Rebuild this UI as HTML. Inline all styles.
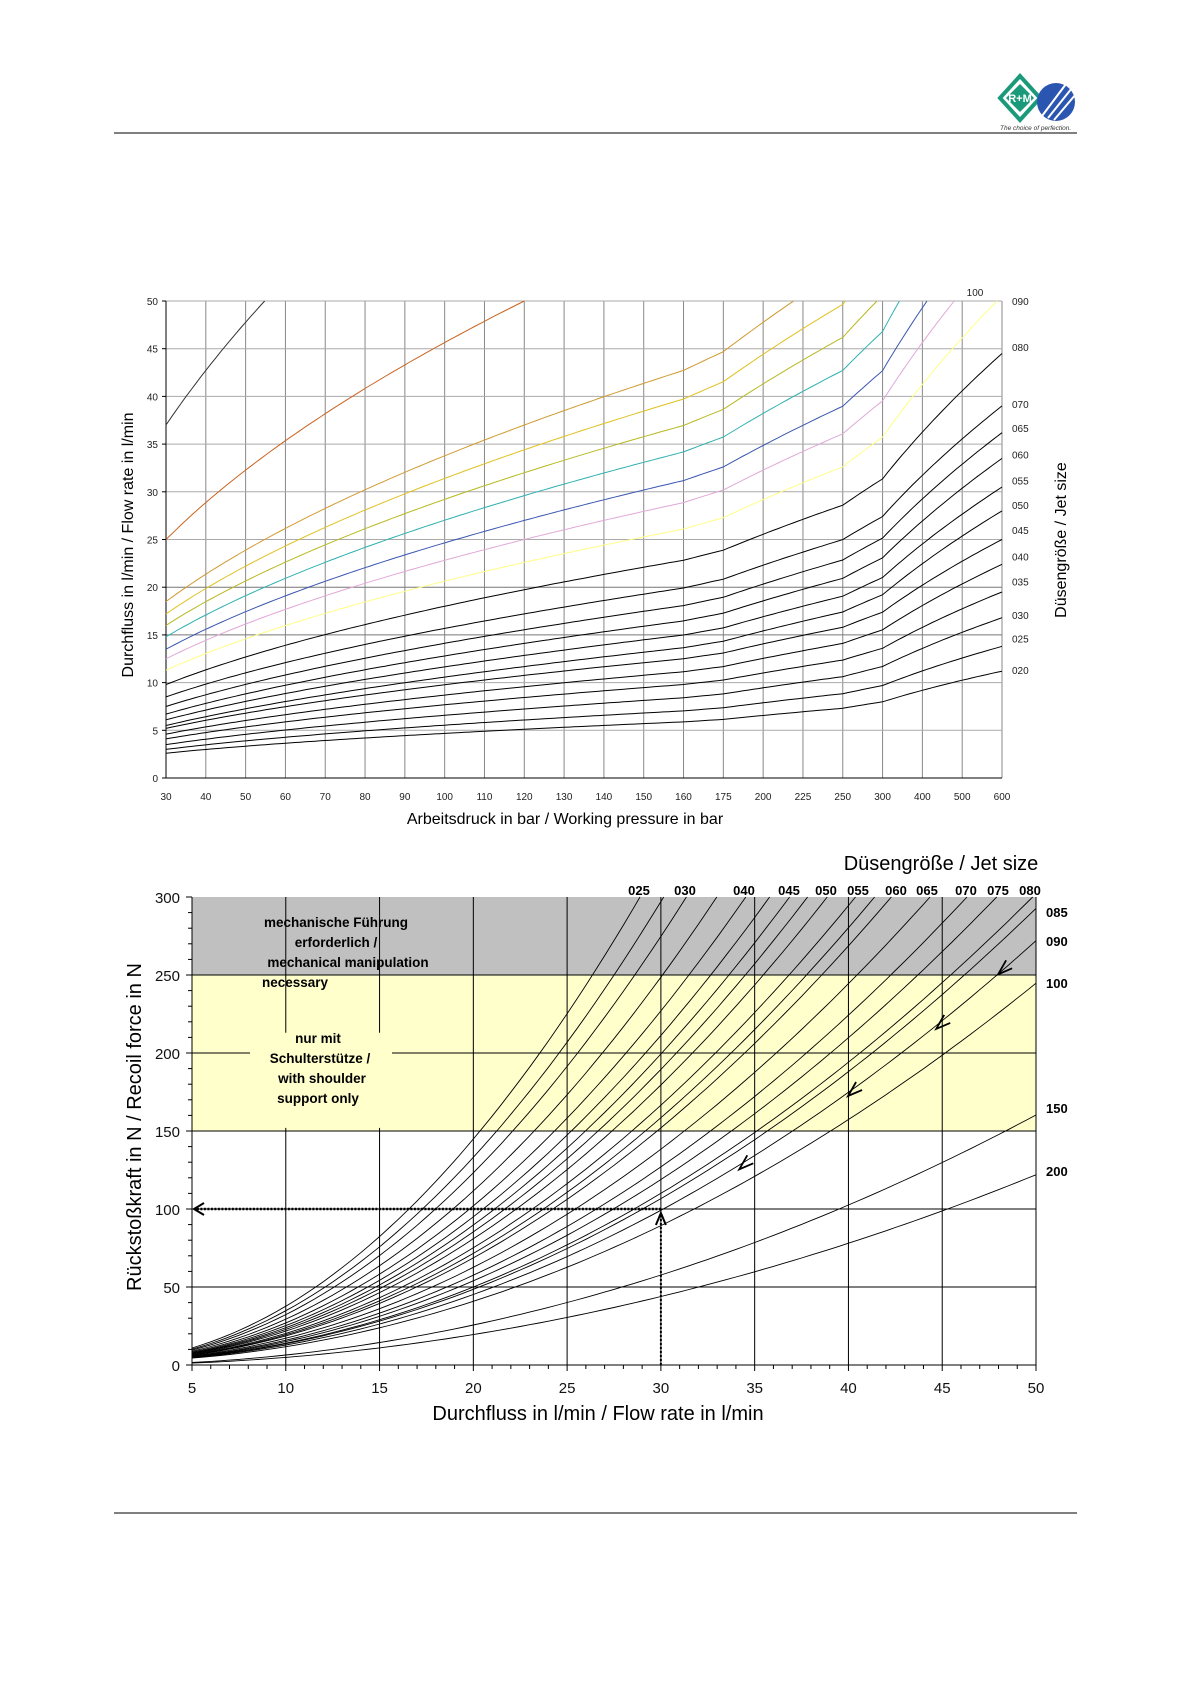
<!DOCTYPE html>
<html><head><meta charset="utf-8">
<style>
html,body{margin:0;padding:0;background:#fff;}
svg{display:block;font-family:"Liberation Sans",sans-serif;}
</style></head>
<body>
<svg id="s" width="1190" height="1684" viewBox="0 0 1190 1684" xmlns="http://www.w3.org/2000/svg">
<rect width="1190" height="1684" fill="#fff"/>
<line x1="114" y1="133" x2="1077" y2="133" stroke="#000" stroke-width="1"/>
<g transform="translate(996,76)">
<polygon points="24,0 44,22 24,44 4,22" fill="#fff" stroke="#1a9a7a" stroke-width="4"/>
<polygon points="24,8 38,22 24,36 10,22" fill="#1a9a7a"/>
<text x="24" y="26" font-size="11" font-weight="bold" fill="#fff" text-anchor="middle">R+M</text>
<circle cx="60" cy="26" r="19" fill="#2a55b0"/>
<line x1="46" y1="40" x2="70" y2="8" stroke="#fff" stroke-width="2"/>
<line x1="52" y1="42" x2="76" y2="12" stroke="#fff" stroke-width="2"/>
<line x1="58" y1="44" x2="80" y2="18" stroke="#fff" stroke-width="2"/>
<text x="4" y="54" font-size="6.5" font-style="italic" fill="#333">The choice of perfection.</text>
</g>
<line x1="114" y1="1513" x2="1077" y2="1513" stroke="#000" stroke-width="1"/>
<g id="top"></g>
<g id="bot"></g>
</svg>
<script>
var NS="http://www.w3.org/2000/svg";
function el(parent,tag,attrs,txt){var e=document.createElementNS(NS,tag);for(var k in attrs)e.setAttribute(k,attrs[k]);if(txt!==undefined)e.textContent=txt;parent.appendChild(e);return e;}
var T=document.getElementById('top');
var L=166,R=1002,TOP=301,BOT=778;
var cats=[30,40,50,60,70,80,90,100,110,120,130,140,150,160,175,200,225,250,300,400,500,600];
var dx=(R-L)/(cats.length-1);
function yq(q){return BOT-q*(BOT-TOP)/50;}
for(var i=0;i<cats.length;i++){var x=L+i*dx;el(T,'line',{x1:x,y1:TOP,x2:x,y2:BOT,stroke:'#888','stroke-width':1});
 el(T,'text',{x:x,y:800,'font-size':10,'text-anchor':'middle',fill:'#222'},cats[i]);}
for(var q=0;q<=50;q+=5){var y=yq(q);el(T,'line',{x1:L,y1:y,x2:R,y2:y,stroke:(q==15||q==20)?'#777':'#aaa','stroke-width':1});
 el(T,'text',{x:158,y:y+4,'font-size':10,'text-anchor':'end',fill:'#222'},q);
 el(T,'line',{x1:L-4,y1:y,x2:L,y2:y,stroke:'#000'});}
el(T,'line',{x1:L,y1:TOP,x2:L,y2:BOT,stroke:'#000'});
el(T,'line',{x1:L,y1:BOT,x2:R,y2:BOT,stroke:'#000'});
function xp(p){for(var i=0;i<cats.length-1;i++){if(p<=cats[i+1]){return L+(i+(p-cats[i])/(cats[i+1]-cats[i]))*dx;}}return R;}
function curve(q30,e,col){var d='';var started=false;
 for(var i=0;i<cats.length-1;i++){for(var k=0;k<8;k++){var p=cats[i]+(cats[i+1]-cats[i])*k/8;var q=q30*Math.pow(p/30,e);
  if(q>50){var pc=30*Math.pow(50/q30,1/e);d+='L'+xp(pc).toFixed(1)+','+TOP;el(T,'path',{d:d,fill:'none',stroke:col,'stroke-width':1});return;}
  d+=(started?'L':'M')+xp(p).toFixed(1)+','+yq(q).toFixed(1);started=true;}}
 var q=q30*Math.pow(20,e);d+='L'+R+','+yq(q).toFixed(1);
 el(T,'path',{d:d,fill:'none',stroke:col,'stroke-width':1});}
var blacks=[[2.6,11.2],[3.0,13.8],[3.5,16.8],[4.1,19.5],[4.6,22.4],[5.2,25.0],[5.5,28.0],[6.1,30.5],[6.7,33.5],[7.5,36.2],[8.5,39.0],[9.8,44.5]];
blacks.forEach(function(b){curve(b[0],Math.log(b[1]/b[0])/Math.log(20),'#000');});
var cols=[[11.3,'#ffff88'],[12.5,'#e0a8d8'],[13.5,'#3a56b0'],[14.8,'#30b0b0'],[16,'#b8b820'],[17.2,'#e0c020'],[18.5,'#d09a30'],[25,'#c86420'],[37,'#333']];
cols.forEach(function(c){curve(c[0],0.5,c[1]);});
[['090',50],['080',45.2],['070',39.2],['065',36.7],['060',33.9],['055',31.2],['050',28.6],['045',26],['040',23.2],['035',20.6],['030',17.1],['025',14.6],['020',11.3]].forEach(function(l){
 el(T,'text',{x:1012,y:yq(l[1])+4,'font-size':10,fill:'#222'},l[0]);});
el(T,'text',{x:975,y:296,'font-size':10,'text-anchor':'middle',fill:'#222'},'100');
el(T,'text',{x:565,y:824,'font-size':16,'text-anchor':'middle',fill:'#000'},'Arbeitsdruck in bar / Working pressure in bar');
el(T,'text',{x:0,y:0,'font-size':16,'text-anchor':'middle',fill:'#000',transform:'translate(133,545) rotate(-90)'},'Durchfluss in l/min / Flow rate in l/min');
el(T,'text',{x:0,y:0,'font-size':16,'text-anchor':'middle',fill:'#000',transform:'translate(1066,540) rotate(-90)'},'Düsengröße / Jet size');
var B=document.getElementById('bot');
var BL=192,BR=1036,BT=897,BB=1365;
function bx(q){return BL+(q-5)*(BR-BL)/45;}
function by(f){return BB-f*(BB-BT)/300;}
el(B,'rect',{x:BL,y:by(300),width:BR-BL,height:by(250)-by(300),fill:'#c0c0c0'});
el(B,'rect',{x:BL,y:by(250),width:BR-BL,height:by(150)-by(250),fill:'#ffffcc'});
for(var q=10;q<=50;q+=5){el(B,'line',{x1:bx(q),y1:BT,x2:bx(q),y2:BB,stroke:'#000','stroke-width':1});}
[50,100,150,200,250].forEach(function(f){el(B,'line',{x1:BL,y1:by(f),x2:BR,y2:by(f),stroke:'#000','stroke-width':1});});
el(B,'rect',{x:250,y:by(213),width:142,height:by(152)-by(213),fill:'#ffffcc'});
var tb=[['mechanische Führung',336,927],['erforderlich /',336,947],['mechanical manipulation',348,967],['necessary',295,987]];
tb.forEach(function(t){el(B,'text',{x:t[1],y:t[2],'font-size':13.5,'font-weight':'bold','text-anchor':'middle',fill:'#000'},t[0]);});
[['nur mit',318,1043],['Schulterstütze /',320,1063],['with shoulder',322,1083],['support only',318,1103]].forEach(function(t){el(B,'text',{x:t[1],y:t[2],'font-size':13.5,'font-weight':'bold','text-anchor':'middle',fill:'#000'},t[0]);});
var ds=[2.8,3.05,3.3,3.65,4.0,4.3,4.56,4.8,5.07,5.47,5.75,6.0,6.6,7.2,7.7,8.33,8.6,9.26,10.3,15.6,20.5];
ds.forEach(function(d){var s='';var first=true;
 for(var q=5;q<=50.01;q+=0.5){var f=q*q/d+ (d<11?2:0);if(f>300){var qq=Math.sqrt((300-(d<11?2:0))*d);s+='L'+bx(qq).toFixed(1)+','+BT;break;}
  s+=(first?'M':'L')+bx(q).toFixed(1)+','+by(f).toFixed(1);first=false;}
 el(B,'path',{d:s,fill:'none',stroke:'#000','stroke-width':0.9});});
el(B,'line',{x1:BL,y1:BT,x2:BL,y2:BB,stroke:'#000'});
el(B,'line',{x1:BL,y1:BB,x2:BR,y2:BB,stroke:'#000'});
for(var f=0;f<=300;f+=10){el(B,'line',{x1:BL-(f%50==0?6:4),y1:by(f),x2:BL,y2:by(f),stroke:'#000'});}
for(var f=0;f<=300;f+=50){el(B,'text',{x:180,y:by(f)+6,'font-size':15,'text-anchor':'end',fill:'#111'},f);}
for(var q=5;q<=50;q++){el(B,'line',{x1:bx(q),y1:BB,x2:bx(q),y2:BB+(q%5==0?6:4),stroke:'#000'});}
for(var q=5;q<=50;q+=5){el(B,'text',{x:bx(q),y:1393,'font-size':15,'text-anchor':'middle',fill:'#111'},q);}
el(B,'line',{x1:bx(30),y1:by(100),x2:BL+4,y2:by(100),stroke:'#000','stroke-width':2.5,'stroke-dasharray':'2,1.5'});
el(B,'line',{x1:bx(30),y1:BB,x2:bx(30),y2:by(100)+4,stroke:'#000','stroke-width':2,'stroke-dasharray':'2,2'});
el(B,'path',{d:'M'+(BL+12)+','+(by(100)-6)+' L'+(BL+2)+','+by(100)+' L'+(BL+12)+','+(by(100)+6),fill:'none',stroke:'#000','stroke-width':2});
el(B,'path',{d:'M'+(bx(30)-5)+','+(by(100)+16)+' L'+bx(30)+','+(by(100)+4)+' L'+(bx(30)+5)+','+(by(100)+16),fill:'none',stroke:'#000','stroke-width':2});
[[34.5,128],[40.3,175],[45,218],[48.3,253]].forEach(function(a){var x=bx(a[0]),y=by(a[1]);
 el(B,'path',{d:'M'+(x+2)+','+(y-10)+' L'+(x-6)+','+(y+4)+' L'+(x+8)+','+(y-2),fill:'none',stroke:'#000','stroke-width':1.8});});
el(B,'text',{x:941,y:870,'font-size':20,'text-anchor':'middle',fill:'#000'},'Düsengröße / Jet size');
[['025',639],['030',685],['040',744],['045',789],['050',826],['055',858],['060',896],['065',927],['070',966],['075',998],['080',1030]].forEach(function(t){
 el(B,'text',{x:t[1],y:895,'font-size':13,'font-weight':'bold','text-anchor':'middle',fill:'#000'},t[0]);});
[['085',917],['090',946],['100',988],['150',1113],['200',1176]].forEach(function(t){el(B,'text',{x:1046,y:t[1],'font-size':13,'font-weight':'bold',fill:'#000'},t[0]);});
el(B,'text',{x:598,y:1420,'font-size':20,'text-anchor':'middle',fill:'#000'},'Durchfluss in l/min / Flow rate in l/min');
el(B,'text',{x:0,y:0,'font-size':20,'text-anchor':'middle',fill:'#000',transform:'translate(141,1127) rotate(-90)'},'Rückstoßkraft in N / Recoil force in N');
</script>
</body></html>
